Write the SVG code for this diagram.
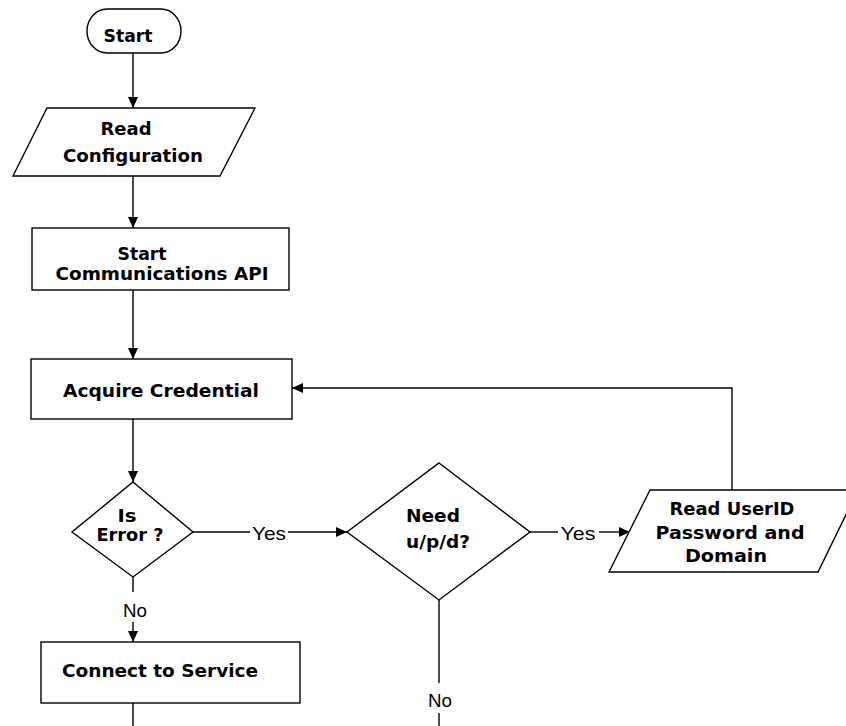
<svg xmlns="http://www.w3.org/2000/svg" width="846" height="726" viewBox="0 0 846 726">
<defs>
<marker id="arr" markerWidth="11" markerHeight="10" refX="11" refY="5" orient="auto" markerUnits="userSpaceOnUse">
<path d="M0,0 L11,5 L0,10 Z" fill="#000"/>
</marker>
<style>
.shape{fill:#fff;stroke:#000;stroke-width:1.4}
.lbl{font-family:"DejaVu Sans","Liberation Sans",sans-serif;font-weight:bold;font-size:18px;fill:#000;text-anchor:middle}
.edge{font-family:"Liberation Sans",Arial,sans-serif;font-size:19px;fill:#000;text-anchor:middle}
.ln{fill:none;stroke:#000;stroke-width:1.4}
.la{fill:none;stroke:#000;stroke-width:1.4;marker-end:url(#arr)}
</style>
</defs>
<rect width="846" height="726" fill="#fff"/>
<g id="connectors">
<line class="la" x1="133" y1="53" x2="133" y2="108"/>
<line class="la" x1="133" y1="176" x2="133" y2="228"/>
<line class="la" x1="133" y1="290" x2="133" y2="359"/>
<line class="la" x1="133" y1="419" x2="133" y2="482"/>
<line class="ln" x1="133" y1="577" x2="133" y2="592"/>
<text class="edge" x="135" y="617" textLength="24" lengthAdjust="spacingAndGlyphs">No</text>
<line class="la" x1="133" y1="622" x2="133" y2="642"/>
<line class="ln" x1="133" y1="703" x2="133" y2="726"/>
<line class="ln" x1="193" y1="532" x2="250" y2="532"/>
<text class="edge" x="269" y="540" textLength="34" lengthAdjust="spacingAndGlyphs">Yes</text>
<line class="la" x1="288" y1="532" x2="347" y2="532"/>
<line class="ln" x1="530" y1="532" x2="558" y2="532"/>
<text class="edge" x="578" y="540" textLength="35" lengthAdjust="spacingAndGlyphs">Yes</text>
<line class="la" x1="599" y1="532" x2="630" y2="532"/>
<line class="ln" x1="439" y1="600" x2="439" y2="683"/>
<text class="edge" x="440" y="707" textLength="24" lengthAdjust="spacingAndGlyphs">No</text>
<line class="ln" x1="439" y1="713" x2="439" y2="726"/>
<polyline class="la" points="732,490 732,388 292,388"/>
</g>
<g id="start">
<rect class="shape" x="87" y="9" width="94" height="44" rx="20" ry="22"/>
<text class="lbl" x="128" y="42" textLength="49" lengthAdjust="spacingAndGlyphs">Start</text>
</g>
<g id="read-config">
<polygon class="shape" points="47,108 255,108 220,176 13,176"/>
<text class="lbl" x="126" y="135" textLength="51" lengthAdjust="spacingAndGlyphs">Read</text>
<text class="lbl" x="133" y="162" textLength="140" lengthAdjust="spacingAndGlyphs">Configuration</text>
</g>
<g id="start-comm">
<rect class="shape" x="32" y="228" width="257" height="62"/>
<text class="lbl" x="142" y="260" textLength="49" lengthAdjust="spacingAndGlyphs">Start</text>
<text class="lbl" x="162" y="280" textLength="213" lengthAdjust="spacingAndGlyphs">Communications API</text>
</g>
<g id="acquire">
<rect class="shape" x="31" y="359" width="261" height="60"/>
<text class="lbl" x="161" y="397" textLength="196" lengthAdjust="spacingAndGlyphs">Acquire Credential</text>
</g>
<g id="is-error">
<polygon class="shape" points="133,482 193,532 133,577 72,532"/>
<text class="lbl" x="127" y="522" textLength="19" lengthAdjust="spacingAndGlyphs">Is</text>
<text class="lbl" x="130" y="541" textLength="67" lengthAdjust="spacingAndGlyphs">Error ?</text>
</g>
<g id="need-upd">
<polygon class="shape" points="439,463 530,532 439,600 347,532"/>
<text class="lbl" x="433" y="522" textLength="54" lengthAdjust="spacingAndGlyphs">Need</text>
<text class="lbl" x="438" y="548" textLength="64" lengthAdjust="spacingAndGlyphs">u/p/d?</text>
</g>
<g id="read-userid">
<polygon class="shape" points="650,490 858,490 818,572 609,572"/>
<text class="lbl" x="732" y="515" textLength="125" lengthAdjust="spacingAndGlyphs">Read UserID</text>
<text class="lbl" x="730" y="539" textLength="149" lengthAdjust="spacingAndGlyphs">Password and</text>
<text class="lbl" x="726" y="562" textLength="82" lengthAdjust="spacingAndGlyphs">Domain</text>
</g>
<g id="connect">
<rect class="shape" x="41" y="642" width="259" height="61"/>
<text class="lbl" x="160" y="677" textLength="196" lengthAdjust="spacingAndGlyphs">Connect to Service</text>
</g>
</svg>
